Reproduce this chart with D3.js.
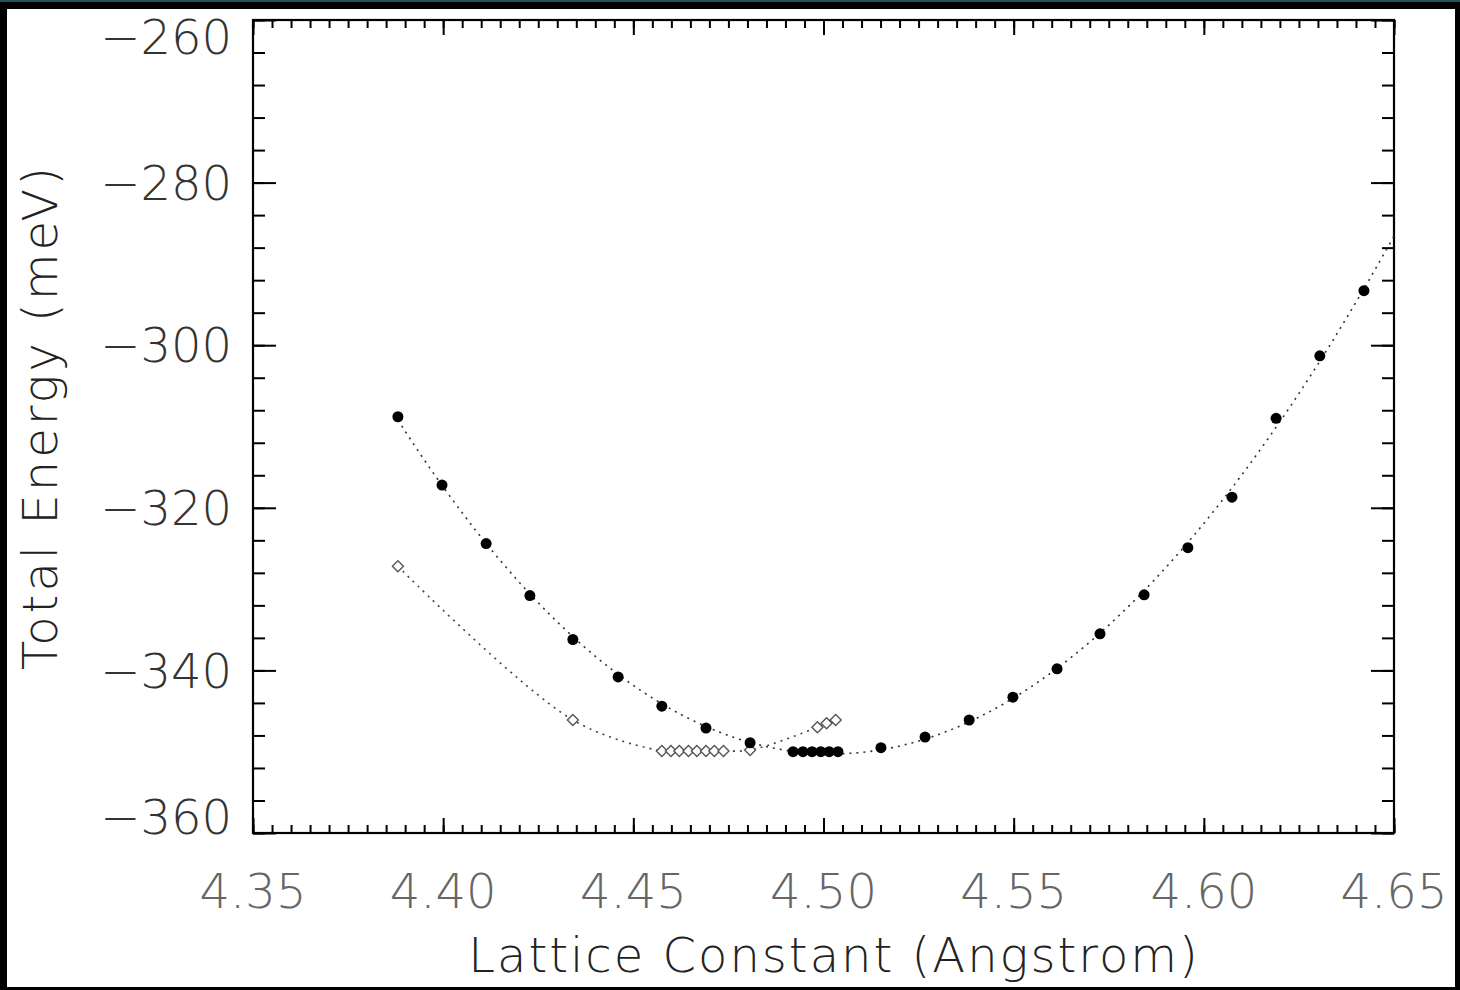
<!DOCTYPE html>
<html>
<head>
<meta charset="utf-8">
<script src="https://cdn.jsdelivr.net/npm/d3@7"></script>
<style>
  html, body { margin: 0; padding: 0; background: #000; }
  svg { display: block; }
  .lbl { font-family: "DejaVu Sans", sans-serif; font-weight: 200; }
</style>
</head>
<body>
<div id="chart"></div>
<script>
	// filled circles
	const latticeA = [4.3881, 4.3997, 4.4113, 4.4228, 4.4341, 4.4460, 4.4575, 4.4691, 4.4807,
		4.4920, 4.4946, 4.4970, 4.4993, 4.5015, 4.5038,
		4.5151, 4.5267, 4.5383, 4.5498, 4.5614, 4.5727, 4.5843, 4.5958, 4.6074, 4.6190, 4.6305, 4.6421];
	const energyA = [-308.8, -317.2, -324.4, -330.8, -336.2, -340.8, -344.4, -347.1, -348.9,
		-350.0, -350.0, -350.0, -350.0, -350.0, -350.0,
		-349.5, -348.2, -346.1, -343.3, -339.8, -335.5, -330.7, -324.9, -318.7, -309.0, -301.3, -293.3];
	// open diamonds
	const latticeB = [4.3881, 4.4341, 4.4575, 4.4599, 4.4621, 4.4645, 4.4667, 4.4691, 4.4713, 4.4737,
		4.4807, 4.4984, 4.5008, 4.5032];
	const energyB = [-327.2, -346.1, -349.9, -349.9, -349.9, -349.9, -349.9, -349.9, -349.9, -349.9,
		-349.8, -347.0, -346.5, -346.1];

	const xTicks = [4.35, 4.40, 4.45, 4.50, 4.55, 4.60, 4.65];
	const yTicks = [-360, -340, -320, -300, -280, -260];

	const W = 1460, H = 990;
	const m = {left: 253, top: 20, right: 1394, bottom: 833};

	const svg = d3.select("#chart").append("svg").attr("width", W).attr("height", H);

	/*============= frame ===============*/
	svg.append("rect").attr("width", W).attr("height", H).attr("fill", "#000");
	svg.append("rect").attr("width", W).attr("height", 2).attr("fill", "#24555c");
	svg.append("rect").attr("x", 7).attr("y", 9).attr("width", 1448).attr("height", 978).attr("fill", "#fff");

	const x = d3.scaleLinear().domain([4.35, 4.65]).range([m.left, m.right]);
	const y = d3.scaleLinear().domain([-360, -260]).range([m.bottom, m.top]);

	svg.append("clipPath").attr("id", "clip").append("rect")
		.attr("x", m.left).attr("y", m.top)
		.attr("width", m.right - m.left).attr("height", m.bottom - m.top);

	/*============= axes ===============*/
	const minorX = d3.range(0, 61).map(i => 4.35 + i * 0.005);
	const minorY = d3.range(0, 26).map(i => -360 + i * 4);

	function tickAxis(axisFn, scale, vals, size, tr) {
		const g = svg.append("g").attr("transform", tr)
			.call(axisFn(scale).tickValues(vals).tickSize(size).tickFormat(""));
		g.select(".domain").remove();
		g.selectAll("line").attr("stroke", "#000").attr("stroke-width", 2);
		return g;
	}
	// inward ticks on all four sides
	tickAxis(d3.axisTop, x, minorX, 8, `translate(0,${m.bottom})`);
	tickAxis(d3.axisTop, x, xTicks, 15, `translate(0,${m.bottom})`);
	tickAxis(d3.axisBottom, x, minorX, 8, `translate(0,${m.top})`);
	tickAxis(d3.axisBottom, x, xTicks, 15, `translate(0,${m.top})`);
	tickAxis(d3.axisRight, y, minorY, 12, `translate(${m.left},0)`);
	tickAxis(d3.axisRight, y, yTicks, 23, `translate(${m.left},0)`);
	tickAxis(d3.axisLeft, y, minorY, 12, `translate(${m.right},0)`);
	tickAxis(d3.axisLeft, y, yTicks, 23, `translate(${m.right},0)`);

	svg.append("rect")
		.attr("x", m.left).attr("y", m.top)
		.attr("width", m.right - m.left).attr("height", m.bottom - m.top)
		.attr("fill", "none").attr("stroke", "#000").attr("stroke-width", 2.2);

	svg.append("g").selectAll("text").data(xTicks).join("text")
		.attr("class", "lbl")
		.attr("x", d => x(d)).attr("y", 908)
		.attr("text-anchor", "middle")
		.attr("font-size", 48).attr("fill", "#666")
		.text(d => d.toFixed(2));

	// end labels are pushed inside the axis span
	const yShift = d => d === -260 ? 17 : d === -360 ? -16 : 0;
	svg.append("g").selectAll("text").data(yTicks).join("text")
		.attr("class", "lbl")
		.attr("x", 232).attr("y", d => y(d) + yShift(d)).attr("dy", "0.36em")
		.attr("text-anchor", "end")
		.attr("font-size", 48).attr("fill", "#333")
		.text(d => "\u2212" + Math.abs(d));

	svg.append("text").attr("class", "lbl")
		.attr("x", 834).attr("y", 972)
		.attr("text-anchor", "middle")
		.attr("font-size", 48).attr("fill", "#222")
		.attr("letter-spacing", 2)
		.text("Lattice Constant (Angstrom)");

	svg.append("text").attr("class", "lbl")
		.attr("transform", "translate(57,417) rotate(-90)")
		.attr("text-anchor", "middle")
		.attr("font-size", 48).attr("fill", "#222")
		.attr("letter-spacing", 3)
		.text("Total Energy (meV)");

	/*============= dotted curves ===============*/
	function polyFit(xs, ys, deg) {
		const x0 = d3.mean(xs);
		const n = deg + 1;
		const A = d3.range(n).map(() => new Array(n + 1).fill(0));
		xs.forEach((xv, k) => {
			const t = xv - x0;
			for (let i = 0; i < n; i++) {
				for (let j = 0; j < n; j++) A[i][j] += Math.pow(t, i + j);
				A[i][n] += ys[k] * Math.pow(t, i);
			}
		});
		for (let i = 0; i < n; i++) {
			let p = i;
			for (let r = i + 1; r < n; r++) if (Math.abs(A[r][i]) > Math.abs(A[p][i])) p = r;
			[A[i], A[p]] = [A[p], A[i]];
			for (let r = 0; r < n; r++) {
				if (r === i) continue;
				const f = A[r][i] / A[i][i];
				for (let c = i; c <= n; c++) A[r][c] -= f * A[i][c];
			}
		}
		const coef = A.map((row, i) => row[n] / row[i]);
		return xv => coef.reduce((s, c, i) => s + c * Math.pow(xv - x0, i), 0);
	}

	const line = d3.line().x(d => x(d[0])).y(d => y(d[1]));

	const fitA = polyFit(latticeA, energyA, 3);
	const gridA = d3.range(latticeA[0], 4.66, 0.001);

	const gLines = svg.append("g").attr("clip-path", "url(#clip)");
	gLines.append("path").datum(gridA.map(v => [v, fitA(v)]))
		.attr("d", line).attr("fill", "none")
		.attr("stroke", "#333").attr("stroke-width", 1.6).attr("stroke-dasharray", "2,5");
	gLines.append("path").datum(latticeB.map((v, i) => [v, energyB[i]]))
		.attr("d", line.curve(d3.curveCatmullRom)).attr("fill", "none")
		.attr("stroke", "#444").attr("stroke-width", 1.6).attr("stroke-dasharray", "2,5");

	/*============= markers ===============*/
	svg.append("g").selectAll("path")
		.data(latticeB.map((v, i) => [v, energyB[i]]))
		.join("path")
		.attr("transform", d => `translate(${x(d[0])},${y(d[1])})`)
		.attr("d", "M0,-5.5L5.5,0L0,5.5L-5.5,0Z")
		.attr("fill", "#fff").attr("stroke", "#555").attr("stroke-width", 1.4);

	svg.append("g").selectAll("circle")
		.data(latticeA.map((v, i) => [v, energyA[i]]))
		.join("circle")
		.attr("cx", d => x(d[0])).attr("cy", d => y(d[1]))
		.attr("r", 5.5).attr("fill", "#000");
</script>
</body>
</html>
